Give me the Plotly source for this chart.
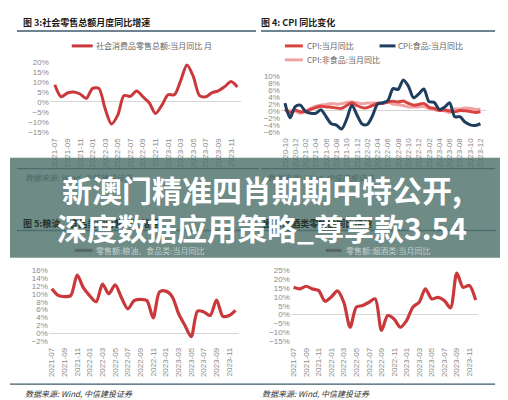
import plotly.graph_objects as go

W, H = 508, 400


def px(x):
    return x / W


def py(y):
    return 1 - y / H


# ---------------- data ----------------
months_a = ["2021-07", "2021-08", "2021-09", "2021-10", "2021-11", "2021-12",
            "2022-01", "2022-02", "2022-03", "2022-04", "2022-05", "2022-06",
            "2022-07", "2022-08", "2022-09", "2022-10", "2022-11", "2022-12",
            "2023-01", "2023-02", "2023-03", "2023-04", "2023-05", "2023-06",
            "2023-07", "2023-08", "2023-09", "2023-10", "2023-11", "2023-12"]

months_b = ["2020-10", "2020-11", "2020-12",
            "2021-01", "2021-02", "2021-03", "2021-04", "2021-05", "2021-06",
            "2021-07", "2021-08", "2021-09", "2021-10", "2021-11", "2021-12",
            "2022-01", "2022-02", "2022-03", "2022-04", "2022-05", "2022-06",
            "2022-07", "2022-08", "2022-09", "2022-10", "2022-11", "2022-12",
            "2023-01", "2023-02", "2023-03", "2023-04", "2023-05", "2023-06",
            "2023-07", "2023-08", "2023-09", "2023-10", "2023-11", "2023-12"]

retail_total = [8.5, 2.5, 4.4, 4.9, 3.9, 1.7, 6.7, 6.7, -3.5, -11.1, -6.7, 3.1,
                2.7, 5.4, 2.5, -0.5, -5.9, -1.8, 3.5, 3.5, 10.6, 18.4, 12.7, 3.1,
                2.5, 4.6, 5.5, 7.6, 10.1, 7.4]

cpi_all = [0.5, -0.5, 0.2, -0.3, -0.2, 0.4, 0.9, 1.3, 1.1, 1.0, 0.8, 0.7, 1.5,
           2.3, 1.5, 0.9, 0.9, 1.5, 2.1, 2.1, 2.5, 2.7, 2.5, 2.8, 2.1, 1.6, 1.8,
           2.1, 1.0, 0.7, 0.1, 0.2, 0.0, -0.3, 0.1, 0.0, -0.2, -0.5, -0.3]

cpi_food = [2.2, -2.0, 1.2, 1.6, -0.2, -0.7, -0.7, 0.3, -1.7, -3.7, -4.1, -5.2,
            -2.4, 1.6, -1.2, -3.8, -3.9, -1.5, 1.9, 2.3, 2.9, 6.3, 6.1, 8.8, 7.0,
            3.7, 4.8, 6.2, 2.6, 2.4, 0.4, 1.0, 2.3, -1.7, -1.7, -3.2, -4.0, -4.2,
            -3.7]

cpi_nonfood = [0.0, 0.0, -0.1, -0.7, -0.2, 0.7, 1.3, 1.6, 1.8, 2.1, 1.9, 2.0,
               2.4, 2.5, 2.3, 2.0, 2.2, 2.2, 2.2, 2.1, 2.5, 1.9, 1.7, 1.5, 1.1,
               1.1, 1.1, 1.2, 0.6, 0.3, 0.1, 0.0, -0.5, 0.5, 0.5, 0.8, 0.7, 0.4,
               0.4]

grain_food = [11.3, 9.6, 9.3, 9.6, 14.8, 11.5, 9.5, 8.0, 12.5, 10.0, 12.3, 9.0,
              6.2, 8.3, 8.6, 8.3, 3.9, 10.5, 10.7, 9.3, 5.0, 2.0, -0.9, 5.6,
              5.4, 4.5, 8.4, 4.3, 4.5, 5.8]

tobacco_liquor = [15.5, 14.6, 16.1, 14.6, 13.6, 7.6, 10.0, 13.5, 7.0, -7.2, 4.2,
                  5.1, 7.0, 8.9, -9.0, -0.6, -2.5, -7.2, -3.4, 4.2, 7.0, 14.6,
                  8.9, 9.8, 8.0, 3.8, 23.5, 15.5, 16.5, 8.3]

title_tl = "图 3:社会零售总额月度同比增速"
title_tr = "图 4: CPI 同比变化"
title_bl = "图 5:粮油、食品类零售额同比增速"
title_br = "图 6:烟酒类零售额同比增速"
name_tl = "社会消费品零售总额:当月同比 月"
name_cpi = "CPI:当月同比"
name_food = "CPI:食品:当月同比"
name_nonfood = "CPI:非食品:当月同比"
name_bl = "零售额:粮油、食品类:当月同比"
name_br = "零售额:烟酒类:当月同比"
source_txt = "数据来源: Wind, 中信建投证券"
banner_1 = "新澳门精准四肖期期中特公开,"
banner_2 = "深度数据应用策略_尊享款3.54"

RED = "#c9383a"
CPI_RED = "#d9423f"
NAVY = "#1f3e5e"
PINK = "#f0a3a3"
TICK = "#8a8a8a"
CJK = "Noto Sans CJK SC"

fig = go.Figure()


def line_trace(x, y, color, width, xa, ya, name):
    return go.Scatter(x=x, y=y, mode="lines", name=name, showlegend=False,
                      line=dict(color=color, width=width, shape="spline", smoothing=0.8),
                      xaxis=xa, yaxis=ya, hoverinfo="skip")


fig.add_trace(line_trace(months_a, retail_total, RED, 3, "x", "y", name_tl))
fig.add_trace(line_trace(months_b, cpi_nonfood, PINK, 3, "x2", "y2", name_nonfood))
fig.add_trace(line_trace(months_b, cpi_all, CPI_RED, 3, "x2", "y2", name_cpi))
fig.add_trace(line_trace(months_b, cpi_food, NAVY, 3, "x2", "y2", name_food))
fig.add_trace(line_trace(months_a, grain_food, RED, 3.2, "x3", "y3", name_bl))
fig.add_trace(line_trace(months_a, tobacco_liquor, RED, 3.2, "x4", "y4", name_br))

tickfont = dict(family="Liberation Sans", size=8, color=TICK)


def xaxis(cats, x0, x1, r0, r1, anchor):
    return dict(type="category", domain=[px(x0), px(x1)], range=[r0, r1],
                tickmode="array", tickvals=cats[::2], ticktext=cats[::2],
                tickangle=-90, tickfont=tickfont, showgrid=False, showline=False,
                zeroline=False, ticks="", anchor=anchor, fixedrange=True)


def yaxis(y0, y1, v0, v1, dtick, anchor):
    return dict(domain=[py(y1), py(y0)], range=[v0, v1], dtick=dtick, tick0=0,
                ticksuffix="%", tickfont=tickfont, showgrid=False, showline=False,
                zeroline=True, zerolinecolor="#d6d6d6", zerolinewidth=1,
                ticks="", anchor=anchor, fixedrange=True)


fig.update_layout(
    xaxis=xaxis(months_a, 40, 232, -0.79, 29.6, "y"),
    yaxis=yaxis(50, 128, -17, 22, 5, "x"),
    xaxis2=xaxis(months_b, 272, 478, -0.78, 39.1, "y2"),
    yaxis2=yaxis(64, 128, -7.1, 11.1, 2, "x2"),
    xaxis3=xaxis(months_a, 39, 230, -0.47, 29.56, "y3"),
    yaxis3=yaxis(259, 338, -3.05, 17.0, 2, "x3"),
    xaxis4=xaxis(months_a, 282, 470, -0.43, 29.4, "y4"),
    yaxis4=yaxis(259, 338, -17.4, 27.4, 5, "x4"),
)

shapes = []
annotations = []


def hline(x0, x1, y, color, width):
    shapes.append(dict(type="line", xref="paper", yref="paper", x0=px(x0), x1=px(x1),
                       y0=py(y), y1=py(y), line=dict(color=color, width=width), layer="above"))


def text(x, y, s, size, color, family=CJK, xanchor="left"):
    annotations.append(dict(x=px(x), y=py(y), xref="paper", yref="paper", text=s,
                            showarrow=False, xanchor=xanchor, yanchor="middle",
                            font=dict(family=family, size=size, color=color)))


# titles and rules (top)
text(11, 15, "<b>" + title_tl + "</b>", 9, "#1a1a1a")
text(250, 15, "<b>" + title_tr + "</b>", 9, "#1a1a1a")
hline(7, 247, 23, "#3c5a6a", 1.5)
hline(252, 487, 23, "#3c5a6a", 1.5)

# legends (top)
hline(62, 83, 38, RED, 3)
text(84, 38, name_tl, 8, "#666666")
hline(276, 294, 38, CPI_RED, 3)
text(296, 38, name_cpi, 8, "#666666")
hline(371, 387, 38, NAVY, 3)
text(388, 38, name_food, 8, "#666666")
hline(276, 294, 52, PINK, 3)
text(296, 52, name_nonfood, 8, "#666666")

# source rules (top) - under banner
hline(7, 250, 161, "#3c5a6a", 1.2)
hline(252, 487, 161, "#3c5a6a", 1.2)
# bottom rules under banner
hline(7, 250, 223, "#3c5a6a", 1.5)
hline(252, 488, 223, "#3c5a6a", 1.5)
# bottom legend samples under banner
hline(65, 83, 243, "#8a3434", 3)
hline(317, 333, 243, "#8a3434", 3)
# bottom source rules
hline(0, 252, 377, "#3c5a6a", 1.2)
hline(252, 487, 377, "#3c5a6a", 1.2)

# banner overlay
shapes.append(dict(type="rect", xref="paper", yref="paper", x0=0, x1=1,
                   y0=py(250.5), y1=py(150), fillcolor="rgba(78,114,107,0.82)",
                   line=dict(width=0), layer="above"))

# texts under banner (pre-blended colours)
text(13, 170, "<i>" + source_txt + "</i>", 8, "#4d6a64")
text(256, 170, "<i>" + source_txt + "</i>", 8, "#4d6a64")
text(11, 216, "<b>" + title_bl + "</b>", 9, "#22332f")
text(252, 216, "<b>" + title_br + "</b>", 9, "#22332f")
text(84, 243, name_bl, 8, "#c3d0cc")
text(335, 243, name_br, 8, "#c3d0cc")

# bottom source
text(13, 386, "<i>" + source_txt + "</i>", 8, "#333333")
text(251, 386, "<i>" + source_txt + "</i>", 8, "#333333")

# banner headline
text(253, 181, "<b>" + banner_1 + "</b>", 30, "#ffffff", xanchor="center")
text(253, 220, "<b>" + banner_2 + "</b>", 30, "#ffffff", xanchor="center")

fig.update_layout(
    width=W, height=H, autosize=False,
    margin=dict(l=0, r=0, t=0, b=0),
    paper_bgcolor="white", plot_bgcolor="white",
    showlegend=False,
    shapes=shapes, annotations=annotations,
)

fig.write_html("out.html")
